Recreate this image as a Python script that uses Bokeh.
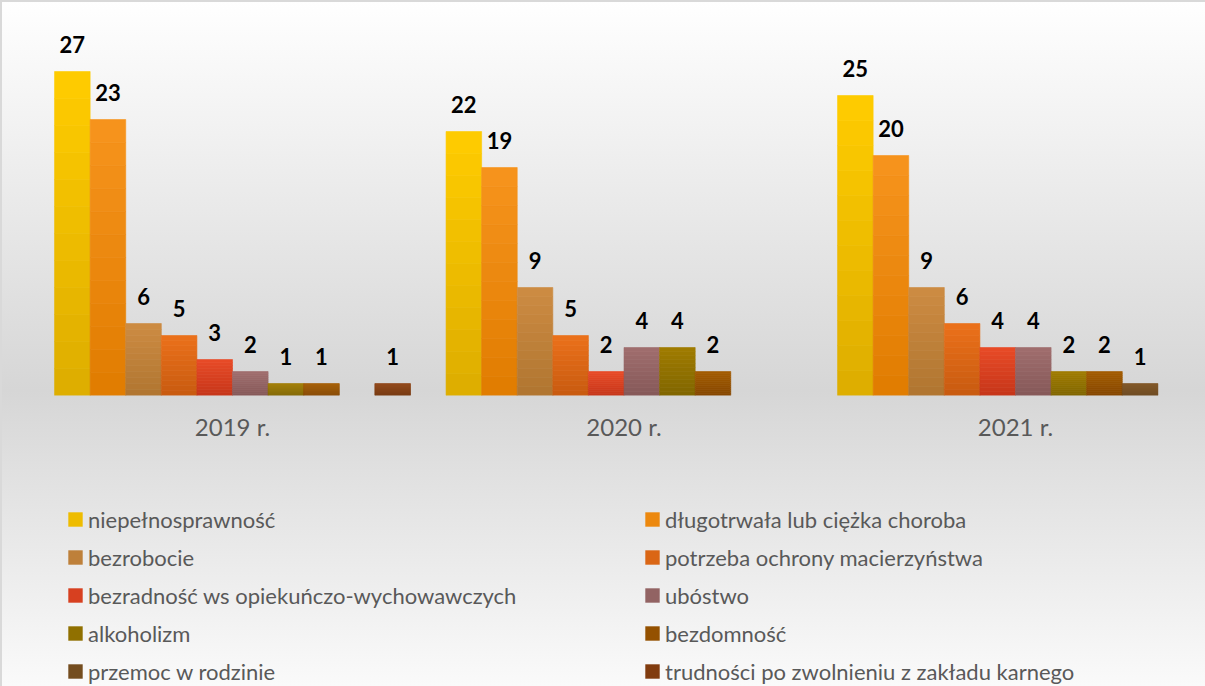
from bokeh.plotting import figure
from bokeh.layouts import column
from bokeh.models import ColumnDataSource, Legend, LegendItem, FixedTicker, Range1d
from bokeh.core.properties import value
from bokeh.embed import file_html
from bokeh.resources import INLINE

# ---------------- data ----------------
years = ["2019 r.", "2020 r.", "2021 r."]
series_names = [
    "niepełnosprawność",
    "długotrwała lub ciężka choroba",
    "bezrobocie",
    "potrzeba ochrony macierzyństwa",
    "bezradność ws opiekuńczo-wychowawczych",
    "ubóstwo",
    "alkoholizm",
    "bezdomność",
    "przemoc w rodzinie",
    "trudności po zwolnieniu z zakładu karnego",
]
niepelnosprawnosc = [27, 22, 25]
choroba = [23, 19, 20]
bezrobocie = [6, 9, 9]
macierzynstwo = [5, 5, 6]
bezradnosc = [3, 2, 4]
ubostwo = [2, 4, 4]
alkoholizm = [1, 4, 2]
bezdomnosc = [1, 2, 2]
przemoc = [None, None, 1]
trudnosci = [1, None, None]
series_values = [niepelnosprawnosc, choroba, bezrobocie, macierzynstwo, bezradnosc,
                 ubostwo, alkoholizm, bezdomnosc, przemoc, trudnosci]

# gradient colours (top, bottom)
top_colors = ["#FFCC00", "#F7941D", "#CD8C43", "#EC711A", "#E84B27",
              "#A06E6E", "#A07C00", "#A35C00", "#7E5422", "#8E4414"]
bottom_colors = ["#DDAD00", "#E07C00", "#B07530", "#C75A10", "#C63519",
                 "#855858", "#806500", "#854600", "#6B461C", "#74340A"]


def mix(c1, c2, t):
    a = [int(c1[i:i + 2], 16) for i in (1, 3, 5)]
    b = [int(c2[i:i + 2], 16) for i in (1, 3, 5)]
    return "#%02x%02x%02x" % tuple(round(a[i] + (b[i] - a[i]) * t) for i in range(3))


n_series = len(series_names)
slot = 1.0 / (n_series + 1)
K = 12

# ---------------- chart ----------------
p = figure(width=1205, height=470, output_backend="svg", toolbar_location=None,
           x_range=Range1d(-0.5926, 2.4853), y_range=Range1d(0, 32.92),
           y_axis_location=None, min_border_left=0, min_border_right=0,
           min_border_top=0, min_border_bottom=75)
p.background_fill_color = None
p.border_fill_color = None
p.outline_line_color = None
p.grid.visible = False
p.styles = {
    "background": "linear-gradient(to bottom, #ffffff 0%, #d6d6d6 83%, #e0e0e0 100%)",
    "box-shadow": "inset 2px 2px 0 #d9d9d9",
}

for s in range(n_series):
    xs = [g + (s - (n_series - 1) / 2) * slot for g, v in enumerate(series_values[s]) if v is not None]
    vs = [v for v in series_values[s] if v is not None]
    for j in range(K):
        t = 1 - (j + 0.5) / K
        col = mix(top_colors[s], bottom_colors[s], t)
        src = ColumnDataSource(dict(x=xs, bottom=[v * j / K for v in vs], top=[v * (j + 1) / K for v in vs]))
        p.vbar(x="x", bottom="bottom", top="top", width=slot, source=src,
               fill_color=col, line_color=col, line_width=0.6)
    lsrc = ColumnDataSource(dict(x=xs, y=vs, t=[str(v) for v in vs]))
    p.text(x="x", y="y", text="t", source=lsrc, text_align="center", text_baseline="alphabetic",
           y_offset=-27, text_font=value("Lato"), text_font_style="bold",
           text_font_size="22px", text_color="#000000")

ax = p.xaxis[0]
ax.ticker = FixedTicker(ticks=[0, 1, 2])
ax.major_label_overrides = {i: y for i, y in enumerate(years)}
ax.axis_line_color = None
ax.major_tick_line_color = None
ax.minor_tick_line_color = None
ax.major_label_standoff = 10
ax.major_label_text_font = "Lato"
ax.major_label_text_font_size = "24px"
ax.major_label_text_color = "#595959"

# ---------------- legend panel ----------------
lg = figure(width=1205, height=216, output_backend="svg", toolbar_location=None,
            x_range=Range1d(0, 1), y_range=Range1d(0, 1),
            x_axis_location=None, y_axis_location=None, min_border=0)
lg.background_fill_color = None
lg.border_fill_color = None
lg.outline_line_color = None
lg.grid.visible = False
lg.styles = {
    "background": "linear-gradient(to bottom, #e0e0e0 0%, #fafafa 100%)",
    "box-shadow": "inset 2px 0 0 #d9d9d9",
}

legend_items = []
for s in range(n_series):
    col = mix(top_colors[s], bottom_colors[s], 0.5)
    # swatch renderer lies far outside the visible range; it only feeds the legend
    r = lg.vbar(x=[-50], bottom=[-60], top=[-50], width=0.1, fill_color=col, line_color=None)
    legend_items.append(LegendItem(label=series_names[s], renderers=[r]))

legend = Legend(items=legend_items, orientation="horizontal", ncols=2,
                location=(66, 0), margin=0, padding=0, spacing=8,
                glyph_width=18, glyph_height=18, label_standoff=4,
                label_width=547, label_height=30,
                label_text_font="Lato", label_text_font_size="22px",
                label_text_color="#595959",
                border_line_color=None, background_fill_alpha=0)
lg.add_layout(legend, "center")

layout = column(p, lg, spacing=0)
open("out.html", "w").write(file_html(layout, INLINE))
